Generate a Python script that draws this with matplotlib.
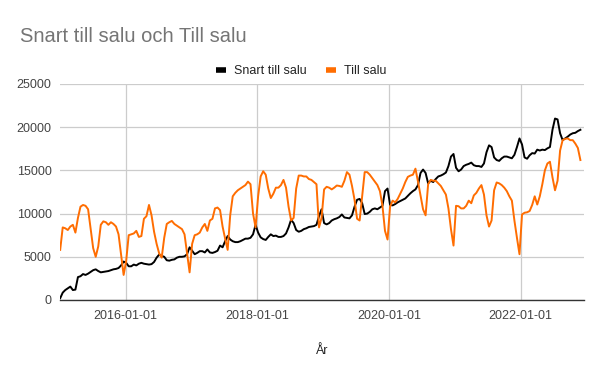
import matplotlib
matplotlib.use('Agg')  # no display, just write the file

import matplotlib.pyplot as plt
from matplotlib.lines import Line2D
import pandas as pd

# 1. Data (roughly every second week)
snart_till_salu = [
    200, 850, 1150, 1350, 1550, 1150, 1200, 2650, 2750, 3000, 2900, 3050, 3250, 3450, 3550, 3350,
    3200, 3250, 3300, 3350, 3450, 3550, 3600, 3700, 4000, 4450,
    4300, 3900, 3900, 4100,
    4000, 4200, 4300, 4200, 4150, 4100, 4150, 4400, 4900, 5250, 5100, 5000, 4600, 4550, 4650, 4700,
    4900, 5000, 5000, 5050, 5300, 6100, 5700, 5300, 5450, 5650, 5650, 5500, 5850, 5500,
    5450, 5550, 5700, 6300, 6100, 6800, 7400, 7000, 6800, 6700, 6700, 6800, 6950, 7100, 7100, 7200,
    7600, 8700, 7800, 7250, 7050, 6950, 7300, 7600, 7400, 7450, 7300, 7300, 7400, 7700,
    8400, 9300, 8900, 8100, 7900, 8000, 8200, 8300, 8450, 8500, 8550, 8700, 9700, 10500, 8900, 8750,
    8900, 9200, 9350, 9450, 9600, 9900, 9550, 9500, 9450, 9800, 10800, 11600, 11700, 11200,
    9950, 10000, 10200, 10500, 10600, 10500, 10700, 10900, 12600, 12900, 11000, 10950, 11100, 11300,
    11450, 11600, 11750, 12050, 12350, 12600, 12800, 13300, 14700, 15100, 14700, 13500, 13800, 13650,
    14000, 14300,
    14400, 14550, 14750, 15500, 16600, 16900, 15300, 14900, 15100, 15500, 15650, 15750, 15900, 15600,
    15500, 15500, 15400, 15800, 17100, 17900, 17700, 16500, 16200, 16100, 16400, 16600, 16600, 16500,
    16400, 16800,
    17700, 18700, 18000, 16500, 16350, 16750, 17000, 16950, 17400, 17300, 17400, 17350, 17550, 17700,
    19700, 21000, 20900, 19300, 18500, 18700, 18900, 19150, 19300, 19350, 19550, 19700,
]

till_salu = [
    5800, 8400, 8300, 8100, 8500, 8700, 7800, 9500, 10800, 11000, 10900, 10500, 8200, 6000, 5000, 6200,
    8700, 9100, 9000, 8700, 9000, 8800, 8500, 7600, 5300, 2900,
    4500, 7500, 7600, 7700,
    8000, 7300, 7400, 9400, 9700, 11000, 9800, 7900, 6500, 5400, 4900, 7200, 8800, 9000, 9150, 8800,
    8600, 8400, 8200, 7600, 5400, 3200, 6500, 7500, 7600, 7800, 8400, 8800, 8000, 9200,
    9400, 10600, 10700, 10400, 8500, 7100, 5800, 9800, 12000, 12400, 12700, 12900, 13100, 13300,
    13700, 13400, 10000, 8400, 12000, 14300, 14900, 14500, 12900, 11800, 12300, 13000, 13000, 13300,
    13900, 13000,
    10800, 9200, 9500, 12900, 14400, 14400, 14300, 14300, 14000, 13900, 13650, 13400, 8400, 9500,
    12800, 13100, 13000, 12800, 13000, 13250, 13200, 13100, 13800, 14800, 14500, 13200, 11600, 9400,
    9200, 12000,
    14800, 14800, 14500, 14100, 13700, 13300, 12600, 10900, 8000, 7000, 10800, 11500, 11300, 11700,
    12300, 12900, 13650, 14250, 14400, 14500, 15200, 13700, 12100, 10500, 9800, 13400, 13900, 13800,
    13800, 13500,
    13200, 12700, 12200, 10600, 8200, 6300, 10900, 10850, 10600, 10600, 10900, 11500, 11200, 12100,
    12400, 12900, 13300, 12200, 9800, 8500, 9200, 12700, 13600, 13500, 13300, 13000, 12600, 12000,
    11500, 9200,
    7200, 5300, 9900, 10100, 10150, 10300, 11000, 12000, 11050, 12000, 13400, 15000, 15800, 16000,
    14200, 12700, 13800, 17300, 18500, 18650, 18700, 18500, 18500, 18100, 17600, 16200,
]

tick_dates = ['2016-01-01', '2018-01-01', '2020-01-01', '2022-01-01']
y_ticks = [0, 5000, 10000, 15000, 20000, 25000]

BLACK = '#000000'
ORANGE = '#ff6d01'


def main():
    dates = pd.date_range('2015-01-02', periods=len(till_salu), freq='338h')

    # 2. Figure, axes placed like the Google Sheets chart
    plt.rcParams['font.family'] = ['Liberation Sans', 'DejaVu Sans']
    fig = plt.figure(figsize=(6, 3.71), dpi=100)
    ax = fig.add_axes([0.1, 0.1914, 0.873, 0.5822])

    # 3. Lines
    ax.plot(dates, snart_till_salu, color=BLACK, lw=1.4, solid_joinstyle='round')
    ax.plot(dates, till_salu, color=ORANGE, lw=1.4, solid_joinstyle='round')

    # 4. Axes, ticks and grid
    ax.set_xlim(pd.Timestamp('2015-01-01'), pd.Timestamp('2022-12-17'))
    ax.set_ylim(0, 25000)
    ax.set_yticks(y_ticks)
    ax.set_yticklabels([str(v) for v in y_ticks])
    ax.set_xticks(pd.to_datetime(tick_dates))
    ax.set_xticklabels(tick_dates)
    ax.grid(True, color='#cccccc', lw=0.9)
    ax.set_axisbelow(True)
    ax.tick_params(length=0, labelsize=9, colors='#444444', pad=6)
    ax.tick_params(axis='x', pad=7)
    for side in ['top', 'right', 'left']:
        ax.spines[side].set_visible(False)
    ax.spines['bottom'].set_color('#333333')
    ax.spines['bottom'].set_linewidth(1.0)
    ax.spines['bottom'].set_zorder(5)

    # 5. Title, legend and axis label
    fig.text(20 / 600, 1 - 36 / 371, 'Snart till salu och Till salu', fontsize=14.5,
             color='#757575', ha='left', va='center')
    handles = [Line2D([], [], color=BLACK, lw=4, solid_capstyle='butt'),
               Line2D([], [], color=ORANGE, lw=4, solid_capstyle='butt')]
    fig.legend(handles, ['Snart till salu', 'Till salu'], loc='center',
               bbox_to_anchor=(0.502, 1 - 71 / 371), ncol=2, frameon=False,
               fontsize=9, handlelength=0.8, handletextpad=0.7, columnspacing=1.5,
               labelcolor='#222222')
    fig.text(322 / 600, 1 - 351 / 371, 'År', fontsize=9, color='#222222',
             ha='center', va='center')

    fig.savefig('out.png', dpi=100)


if __name__ == '__main__':
    main()
